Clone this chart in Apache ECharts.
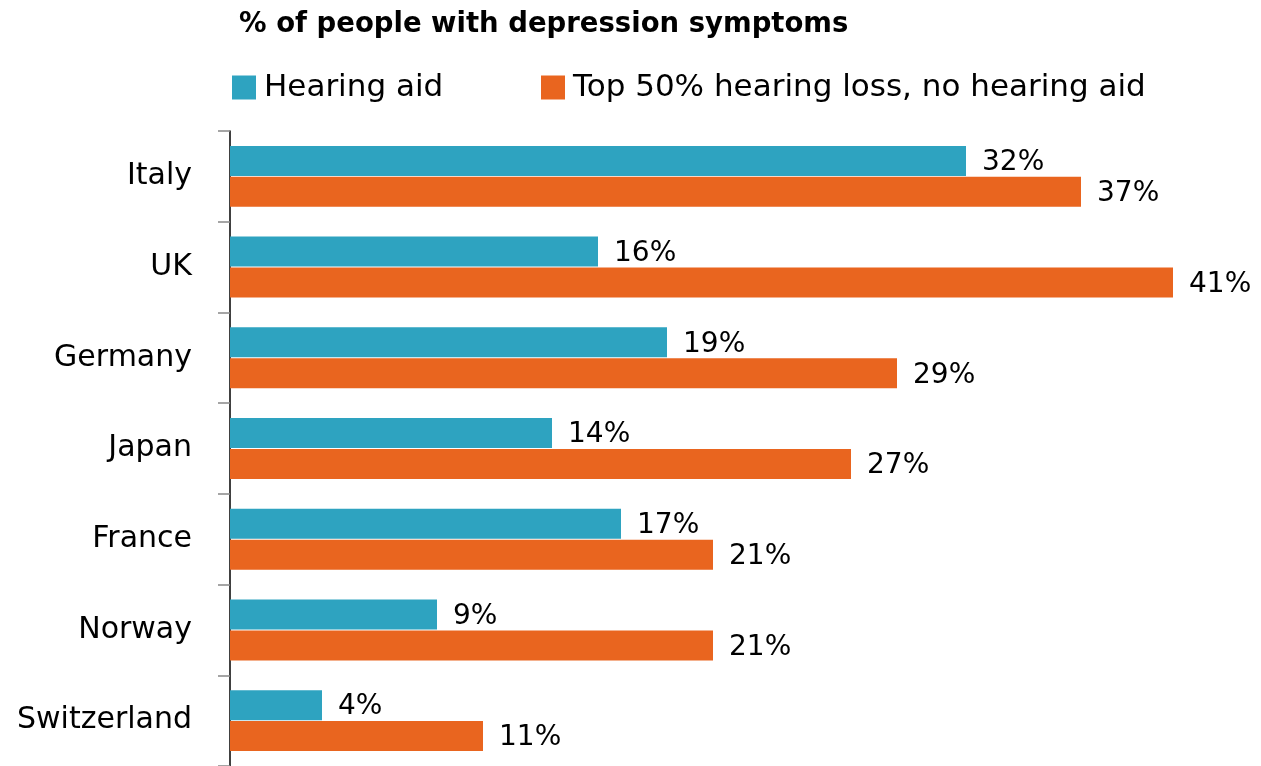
<!DOCTYPE html>
<html>
<head>
<meta charset="utf-8">
<script src="https://cdn.jsdelivr.net/npm/echarts@6/dist/echarts.min.js"></script>
<style>html,body{margin:0;padding:0;background:#fff}#c{width:1261px;height:766px}</style>
</head>
<body>
<div id="c"></div>
<script>
const categories = ['Italy', 'UK', 'Germany', 'Japan', 'France', 'Norway', 'Switzerland'];
const hearingAid = [32, 16, 19, 14, 17, 9, 4];
const noHearingAid = [37, 41, 29, 27, 21, 21, 11];
const seriesNames = ['Hearing aid', 'Top 50% hearing loss, no hearing aid'];
const titleText = '% of people with depression symptoms';

const FONT = '"DejaVu Sans", Verdana, sans-serif';
const chart = echarts.init(document.getElementById('c'));
const labelStyle = {
  show: true, position: 'right', distance: 16, offset: [0, 2],
  formatter: p => p.value + '%',
  fontFamily: FONT, fontSize: 28, color: '#000'
};
const legendText = { fontFamily: FONT, fontSize: 31, color: '#000', padding: [0, 0, 0, 3] };
chart.setOption({
  animation: false,
  title: {
    text: titleText, left: 234, top: 6,
    textStyle: { fontFamily: FONT, fontWeight: 'bold', fontSize: 27.5, color: '#000' }
  },
  legend: [
    { data: [seriesNames[0]], left: 227, top: 67, itemWidth: 24, itemHeight: 24,
      icon: 'rect', textStyle: legendText },
    { data: [seriesNames[1]], left: 536, top: 67, itemWidth: 24, itemHeight: 24,
      icon: 'rect', textStyle: legendText }
  ],
  grid: { left: 230, right: 19, top: 131, bottom: -1, containLabel: false },
  xAxis: { type: 'value', min: 0, max: 44, show: false },
  yAxis: {
    type: 'category', data: categories, inverse: true,
    axisLine: { show: true, lineStyle: { color: '#000', width: 1.5 } },
    axisTick: { show: true, length: 12, lineStyle: { color: '#888', width: 1.5 } },
    axisLabel: { margin: 38, fontFamily: FONT, fontSize: 30, color: '#000' }
  },
  series: [
    { name: seriesNames[0], type: 'bar', data: hearingAid, barWidth: 30, barGap: '3%',
      itemStyle: { color: '#2ea3c0' }, label: labelStyle },
    { name: seriesNames[1], type: 'bar', data: noHearingAid, barWidth: 30, barGap: '3%',
      itemStyle: { color: '#e9651f' }, label: labelStyle }
  ]
});
</script>
</body>
</html>
